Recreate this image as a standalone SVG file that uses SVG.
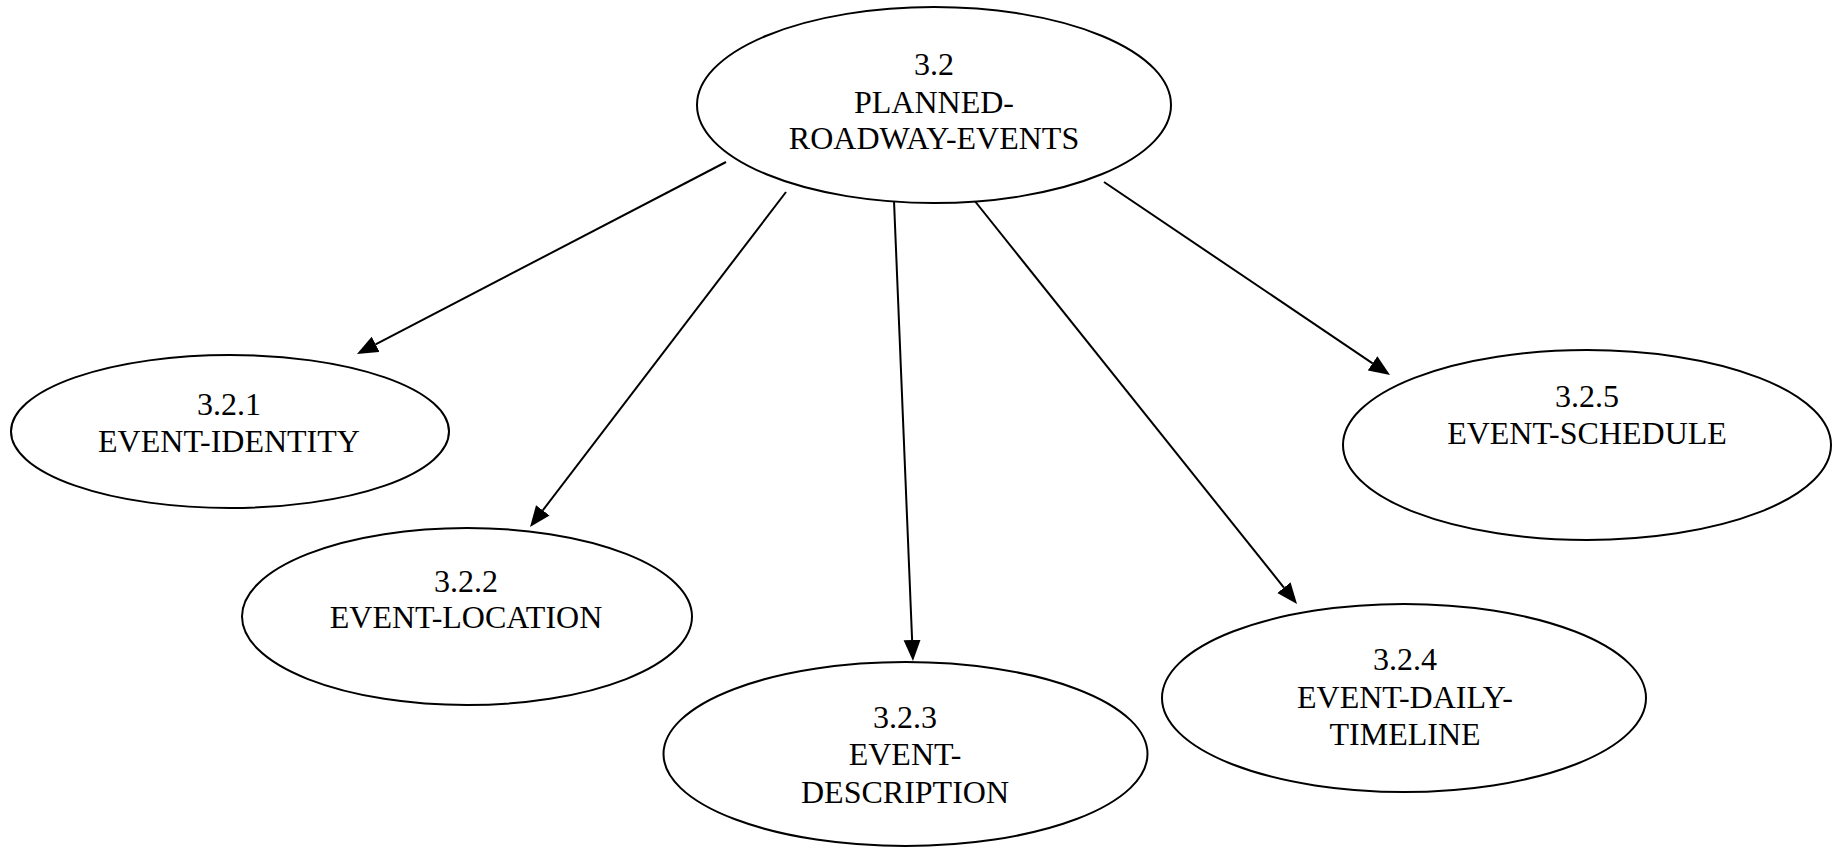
<svg xmlns="http://www.w3.org/2000/svg" width="1844" height="848" viewBox="0 0 1844 848">
  <style>
    .node ellipse { fill: #ffffff; stroke: #000000; stroke-width: 2; }
    .node text { font-family: "Liberation Serif", "Times New Roman", serif; font-size: 32px; fill: #000000; text-anchor: middle; }
    .edges line { stroke: #000000; stroke-width: 2; }
  </style>
  <defs>
    <marker id="arrow" markerUnits="userSpaceOnUse" markerWidth="22" markerHeight="18" refX="0" refY="9" orient="auto" viewBox="0 0 22 18">
      <path d="M0,0.5 L21,9 L0,17.5 Z" fill="#000000"/>
    </marker>
  </defs>
  <rect width="1844" height="848" fill="#ffffff"/>

  <!-- connectors: parent to each child -->
  <g id="edges" class="edges">
    <line x1="726" y1="162" x2="375.6" y2="344.3" marker-end="url(#arrow)"/>
    <line x1="786" y1="192" x2="542.8" y2="510.3" marker-end="url(#arrow)"/>
    <line x1="894" y1="201" x2="912.1" y2="640.0" marker-end="url(#arrow)"/>
    <line x1="974" y1="200" x2="1283.9" y2="587.6" marker-end="url(#arrow)"/>
    <line x1="1104" y1="182" x2="1372.6" y2="363.3" marker-end="url(#arrow)"/>
  </g>

  <g id="node-3-2" class="node">
    <ellipse cx="934" cy="105" rx="237" ry="98"/>
    <text x="934" y="75">3.2</text>
    <text x="934" y="113">PLANNED-</text>
    <text x="934" y="149">ROADWAY-EVENTS</text>
  </g>

  <g id="node-3-2-1" class="node">
    <ellipse cx="230" cy="431.5" rx="219" ry="76.5"/>
    <text x="229" y="415">3.2.1</text>
    <text x="229" y="452">EVENT-IDENTITY</text>
  </g>

  <g id="node-3-2-2" class="node">
    <ellipse cx="467" cy="616.5" rx="225" ry="88.5"/>
    <text x="466" y="592">3.2.2</text>
    <text x="466" y="628">EVENT-LOCATION</text>
  </g>

  <g id="node-3-2-3" class="node">
    <ellipse cx="905.5" cy="754" rx="242" ry="92"/>
    <text x="905" y="728">3.2.3</text>
    <text x="905" y="765">EVENT-</text>
    <text x="905" y="803">DESCRIPTION</text>
  </g>

  <g id="node-3-2-4" class="node">
    <ellipse cx="1404" cy="698" rx="242" ry="94"/>
    <text x="1405" y="670">3.2.4</text>
    <text x="1405" y="708">EVENT-DAILY-</text>
    <text x="1405" y="745">TIMELINE</text>
  </g>

  <g id="node-3-2-5" class="node">
    <ellipse cx="1587" cy="445" rx="244" ry="95"/>
    <text x="1587" y="407">3.2.5</text>
    <text x="1587" y="444">EVENT-SCHEDULE</text>
  </g>
</svg>
